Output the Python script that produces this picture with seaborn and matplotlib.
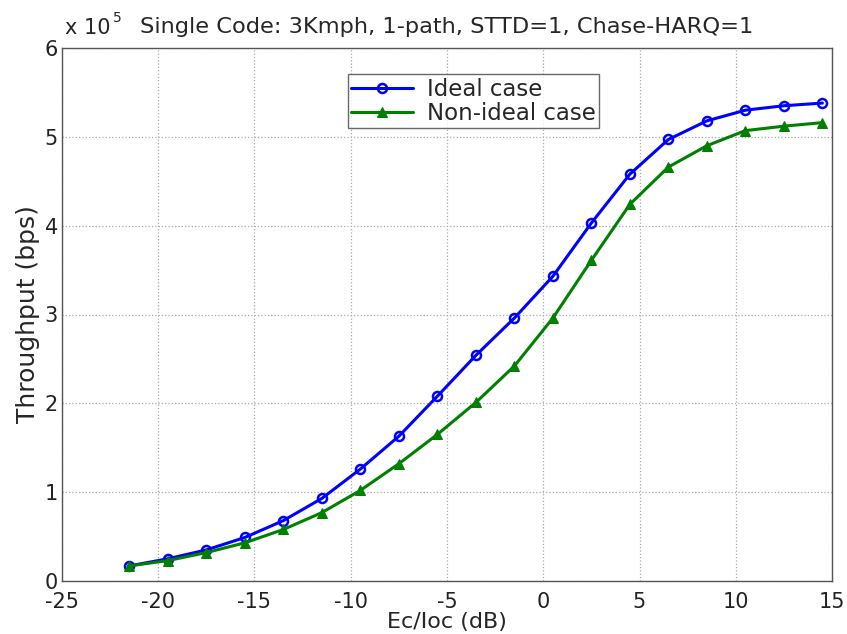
import numpy as np
import pandas as pd
import matplotlib
matplotlib.use("Agg")
import matplotlib.pyplot as plt
import seaborn as sns
from matplotlib.ticker import FuncFormatter, MultipleLocator

ec_ioc = [-21.5, -19.5, -17.5, -15.5, -13.5, -11.5, -9.5, -7.5, -5.5, -3.5,
          -1.5, 0.5, 2.5, 4.5, 6.5, 8.5, 10.5, 12.5, 14.5]
ideal = [0.17e5, 0.25e5, 0.35e5, 0.49e5, 0.68e5, 0.93e5, 1.26e5, 1.63e5, 2.08e5, 2.54e5,
         2.96e5, 3.43e5, 4.03e5, 4.58e5, 4.97e5, 5.18e5, 5.30e5, 5.35e5, 5.38e5]
non_ideal = [0.17e5, 0.23e5, 0.32e5, 0.43e5, 0.58e5, 0.77e5, 1.02e5, 1.32e5, 1.65e5, 2.01e5,
             2.42e5, 2.96e5, 3.61e5, 4.24e5, 4.66e5, 4.90e5, 5.07e5, 5.12e5, 5.16e5]
series_names = ["Ideal case", "Non-ideal case"]
title = "Single Code: 3Kmph, 1-path, STTD=1, Chase-HARQ=1"

sns.set_style("white")
plt.rcParams['font.family'] = ['DejaVu Sans']

fig = plt.figure(figsize=(8.47, 6.34), dpi=100)
ax = fig.add_axes([62/847, 1 - 581/634, 770/847, 533/634])

df1 = pd.DataFrame({"x": ec_ioc, "y": ideal})
df2 = pd.DataFrame({"x": ec_ioc, "y": non_ideal})
sns.lineplot(data=df1, x="x", y="y", ax=ax, color="#0000ff", lw=2.2,
             marker="o", markersize=6.5, markerfacecolor="none",
             markeredgecolor="#0000ff", markeredgewidth=1.8, label=series_names[0])
sns.lineplot(data=df2, x="x", y="y", ax=ax, color="#008000", lw=2.2,
             marker="^", markersize=7, markerfacecolor="#008000",
             markeredgecolor="#008000", label=series_names[1])

ax.set_xlim(-25, 15)
ax.set_ylim(0, 6e5)
ax.xaxis.set_major_locator(MultipleLocator(5))
ax.yaxis.set_major_locator(MultipleLocator(1e5))
ax.yaxis.set_major_formatter(FuncFormatter(lambda v, p: f"{v/1e5:g}"))
ax.xaxis.set_major_formatter(FuncFormatter(lambda v, p: f"{v:g}"))
ax.tick_params(direction="in", length=5, labelsize=15, colors="#222222")
ax.tick_params(axis="x", pad=8)
ax.tick_params(axis="y", pad=3)
ax.grid(True, linestyle=":", color="#aaaaaa", lw=0.9)
for s in ax.spines.values():
    s.set_color("#555555")
    s.set_linewidth(1.0)

ax.set_xlabel("Ec/Ioc (dB)", fontsize=16, labelpad=0)
ax.set_ylabel("Throughput (bps)", fontsize=18, labelpad=3)

fig.text(65/847, 1 - 34/634, "x 10", fontsize=15, ha="left", va="baseline")
fig.text(113/847, 1 - 22/634, "5", fontsize=10, ha="left", va="baseline")
fig.text(447/847, 1 - 33/634, title, fontsize=16.2, ha="center", va="baseline")

leg = ax.legend(loc="upper left", bbox_to_anchor=(0.356, 0.972), fontsize=16.5,
                frameon=True, fancybox=False, edgecolor="#444444",
                handlelength=2.7, borderpad=0.15, labelspacing=0.05,
                handletextpad=0.6)
leg.get_frame().set_linewidth(1.0)

fig.savefig("out.png", dpi=100)
